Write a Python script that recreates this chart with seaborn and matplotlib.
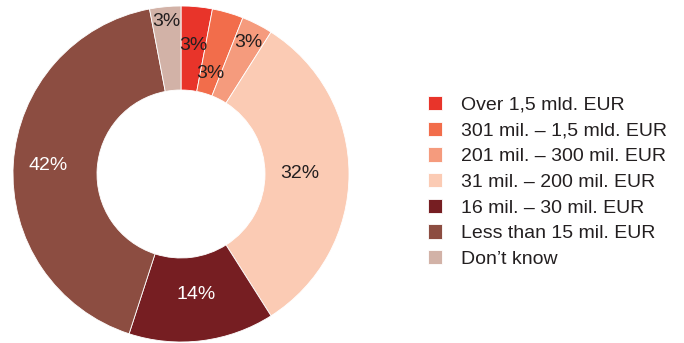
import matplotlib
matplotlib.use("Agg")
import matplotlib.pyplot as plt
import seaborn as sns
import numpy as np

categories = ["Over 1,5 mld. EUR", "301 mil. \u2013 1,5 mld. EUR", "201 mil. \u2013 300 mil. EUR",
              "31 mil. \u2013 200 mil. EUR", "16 mil. \u2013 30 mil. EUR", "Less than 15 mil. EUR",
              "Don\u2019t know"]
shares = [3, 3, 3, 32, 14, 42, 3]
slice_colors = ["#E8342A", "#F26D4B", "#F59B7D", "#FBCBB4", "#761E22", "#8C4D41", "#D2B2A7"]
label_colors = ["#231F20", "#231F20", "#231F20", "#231F20", "white", "white", "#231F20"]
# how far from the centre each percentage sits (fraction of outer radius)
label_radius = [0.77, 0.625, 0.88, 0.71, 0.72, 0.79, 0.91]

sns.set_theme(style="white")
plt.rcParams['font.family'] = ['Liberation Sans', 'DejaVu Sans']

fig = plt.figure(figsize=(6.84, 3.43), dpi=100)
ax = fig.add_axes([13 / 684, 1 / 343, 336 / 684, 336 / 343])

wedges, _ = ax.pie(shares, colors=sns.color_palette(slice_colors), startangle=90, counterclock=False,
                   radius=1, wedgeprops=dict(width=0.5, edgecolor="white", linewidth=0.6))

# percentage labels at each wedge's middle angle
for w, s, r, c in zip(wedges, shares, label_radius, label_colors):
    mid = np.deg2rad((w.theta1 + w.theta2) / 2)
    ax.text(r * np.cos(mid), r * np.sin(mid), f"{s}%", ha="center", va="center",
            fontsize=14, color=c)

ax.set_xlim(-1, 1)
ax.set_ylim(-1, 1)
ax.set_aspect("equal")
ax.axis("off")

fig.legend(wedges, categories, loc="center left", bbox_to_anchor=(410 / 684, 1 - 182 / 343),
           frameon=False, fontsize=14, handlelength=0.75, handleheight=0.75,
           handletextpad=0.95, labelspacing=0.4, labelcolor="#231F20")

plt.savefig("out.png", dpi=100)
